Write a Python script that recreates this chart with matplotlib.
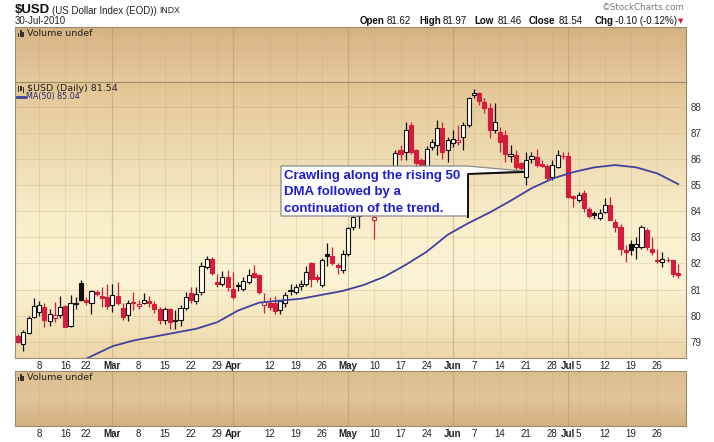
import numpy as np
import pandas as pd
import matplotlib
matplotlib.use("Agg")
import matplotlib.pyplot as plt
from matplotlib.colors import LinearSegmentedColormap
from matplotlib.patches import Polygon, Rectangle
from matplotlib.lines import Line2D

plt.rcParams['font.family'] = ['Liberation Sans', 'DejaVu Sans']

# trading days on the chart (Feb 15 and May 31 closed)
days = pd.bdate_range("2010-02-02", "2010-07-30")
days = days[~days.isin(pd.to_datetime(["2010-02-15", "2010-05-31"]))]

opens = [79.21, 78.93, 79.34, 79.96, 80.15, 80.34, 79.80, 79.92, 80.02, 80.36,
         79.60, 80.45, 81.26, 80.62, 80.47, 80.91, 80.75, 80.72, 80.40, 80.75,
         80.31, 80.02, 80.53, 80.36, 80.49, 80.56, 80.44, 80.27, 79.85, 80.24,
         79.78, 79.83, 80.28, 80.87, 80.55, 80.91, 81.87, 82.19, 81.30, 81.23,
         81.49, 81.04, 81.12, 81.04, 81.30, 81.62, 81.55, 80.40, 80.49, 80.47,
         80.20, 80.50, 80.95, 80.89, 81.15, 81.23, 82.02, 81.50, 81.17, 82.35,
         82.28, 81.94, 81.74, 82.36, 83.40, 83.80, 84.40, 84.90, 83.66, 83.95,
         84.60, 85.10, 85.50, 86.34, 86.28, 87.30, 86.34, 85.96, 85.70, 86.47,
         86.53, 87.17, 86.34, 86.60, 86.66, 86.85, 87.30, 88.45, 88.52, 88.19,
         87.94, 87.13, 87.04, 86.92, 86.12, 86.15, 85.83, 85.32, 86.00, 86.09,
         85.80, 85.73, 85.32, 85.70, 86.13, 86.11, 84.60, 84.45, 84.68, 84.10,
         83.92, 83.75, 83.98, 84.23, 83.60, 83.40, 82.52, 82.76, 82.64, 82.64,
         83.27, 82.57, 82.15, 82.06, 82.15, 82.13, 81.62]
highs = [79.30, 79.45, 80.00, 80.68, 80.55, 80.47, 80.27, 80.53, 80.75, 80.40,
         80.78, 80.70, 81.36, 80.70, 80.98, 81.00, 81.10, 81.23, 81.20, 81.30,
         80.47, 80.62, 80.90, 80.60, 80.87, 80.75, 80.55, 80.35, 80.35, 80.30,
         80.20, 80.40, 80.90, 81.10, 81.10, 82.05, 82.30, 82.25, 81.60, 81.70,
         81.75, 81.68, 81.30, 81.50, 81.80, 81.95, 81.60, 80.86, 80.70, 80.75,
         80.60, 80.90, 81.20, 81.20, 81.35, 81.90, 82.05, 81.60, 82.20, 82.77,
         82.65, 82.00, 82.50, 83.40, 83.98, 84.60, 85.50, 85.30, 84.20, 84.70,
         85.50, 85.70, 86.34, 86.53, 87.43, 87.43, 86.40, 86.05, 86.50, 86.75,
         87.49, 87.43, 86.85, 87.11, 87.30, 87.43, 88.38, 88.70, 88.58, 88.32,
         88.13, 88.13, 87.24, 87.11, 86.53, 86.34, 85.90, 86.28, 86.28, 86.40,
         85.96, 85.80, 85.96, 86.34, 86.28, 86.28, 84.62, 84.75, 84.81, 84.15,
         84.00, 84.10, 84.49, 84.55, 83.72, 83.53, 82.70, 82.89, 83.02, 83.47,
         83.34, 83.02, 82.57, 82.45, 82.25, 82.13, 81.97]
lows = [78.95, 78.64, 79.30, 79.90, 80.00, 79.57, 79.60, 79.75, 79.90, 79.55,
        79.55, 80.24, 80.55, 80.40, 80.08, 80.75, 80.34, 80.27, 80.15, 80.40,
        79.83, 79.80, 80.20, 80.27, 80.45, 80.35, 80.10, 79.70, 79.70, 79.50,
        79.48, 79.60, 80.20, 80.50, 80.45, 80.80, 81.80, 81.55, 81.10, 81.15,
        80.95, 80.65, 80.95, 80.95, 81.20, 81.45, 80.85, 80.09, 80.20, 80.05,
        80.05, 80.35, 80.80, 80.85, 81.00, 81.15, 81.10, 81.30, 81.10, 81.90,
        81.95, 81.60, 81.65, 82.30, 83.30, 83.34, 84.20, 84.30, 82.92, 83.90,
        84.40, 84.90, 85.40, 85.96, 85.96, 86.20, 85.64, 85.60, 85.60, 86.35,
        86.15, 86.02, 85.89, 86.47, 86.55, 86.34, 87.24, 88.32, 88.07, 87.75,
        86.79, 86.98, 86.28, 85.89, 85.89, 85.57, 85.55, 85.00, 85.83, 85.70,
        85.68, 85.20, 85.19, 85.64, 86.00, 84.49, 84.17, 84.36, 83.98, 83.75,
        83.70, 83.66, 83.92, 83.66, 83.21, 82.32, 82.06, 82.32, 82.19, 82.57,
        82.51, 82.32, 82.00, 81.87, 82.06, 81.49, 81.46]
closes = [79.00, 79.38, 79.92, 80.36, 80.40, 79.83, 80.06, 80.02, 80.34, 79.57,
          80.49, 80.50, 80.59, 80.53, 80.95, 80.85, 80.66, 80.36, 80.79, 80.47,
          79.96, 80.49, 80.47, 80.44, 80.59, 80.47, 80.24, 79.83, 80.24, 79.76,
          79.82, 80.30, 80.72, 80.60, 80.85, 81.90, 82.19, 81.62, 81.23, 81.49,
          81.10, 80.72, 81.17, 81.33, 81.55, 81.50, 80.91, 80.53, 80.34, 80.18,
          80.55, 80.80, 80.98, 81.08, 81.20, 81.68, 81.42, 81.40, 82.13, 82.30,
          82.02, 81.85, 82.36, 83.34, 83.79, 84.40, 84.90, 84.70, 83.79, 84.50,
          85.20, 85.60, 86.24, 86.21, 87.13, 86.28, 85.83, 85.70, 86.40, 86.66,
          87.17, 86.28, 86.72, 86.75, 86.72, 87.30, 88.32, 88.54, 88.23, 87.94,
          87.11, 87.43, 86.66, 86.20, 86.21, 85.68, 85.64, 85.96, 86.11, 85.77,
          85.75, 85.26, 85.77, 86.15, 86.10, 84.55, 84.49, 84.62, 84.11, 83.81,
          83.85, 83.94, 84.23, 83.66, 83.40, 82.57, 82.45, 82.51, 82.76, 83.40,
          82.64, 82.45, 82.10, 82.19, 82.12, 81.60, 81.54]
prior_close = 79.35

# 50-day moving average, every 4th trading day from day 10
ma_start, ma_step = 10, 4
ma_values = [78.05, 78.45, 78.83, 79.05, 79.20, 79.35, 79.50, 79.75, 80.20, 80.50,
             80.58, 80.65, 80.80, 80.95, 81.18, 81.50, 81.95, 82.45, 83.10, 83.55,
             83.95, 84.40, 84.88, 85.25, 85.50, 85.68, 85.77, 85.68, 85.45, 85.04]

tick_dates = ["2010-02-08", "2010-02-16", "2010-02-22", "2010-03-01", "2010-03-08",
              "2010-03-15", "2010-03-22", "2010-03-29", "2010-04-01", "2010-04-12",
              "2010-04-19", "2010-04-26", "2010-05-03", "2010-05-10", "2010-05-17",
              "2010-05-24", "2010-06-01", "2010-06-07", "2010-06-14", "2010-06-21",
              "2010-06-28", "2010-07-01", "2010-07-05", "2010-07-12", "2010-07-19",
              "2010-07-26"]
tick_labels = ["8", "16", "22", "Mar", "8", "15", "22", "29", "Apr", "12", "19", "26",
               "May", "10", "17", "24", "Jun", "7", "14", "21", "28", "Jul", "5", "12",
               "19", "26"]
months = {"Mar", "Apr", "May", "Jun", "Jul"}
price_ticks = [79, 80, 81, 82, 83, 84, 85, 86, 87, 88]

W, H = 714, 442
red = '#d51c3c'


def fx(x):
    return x / W


def fy(y):
    return 1 - y / H


fig = plt.figure(figsize=(W / 100, H / 100), dpi=100)
fig.patch.set_facecolor('white')


def panel(x0, y0, x1, y1):
    return fig.add_axes([x0 / W, 1 - y1 / H, (x1 - x0) / W, (y1 - y0) / H])


def shade(a, stops):
    cmap = LinearSegmentedColormap.from_list('bg', stops)
    a.imshow(np.linspace(0, 1, 200).reshape(-1, 1), cmap=cmap, aspect='auto',
             extent=(0, 1, 0, 1), transform=a.transAxes, zorder=0, interpolation='bilinear')


ax_top = panel(15, 27, 686, 82)
ax = panel(15, 82, 686, 358)
ax_bot = panel(15, 371, 686, 426)

shade(ax_top, [(0, '#d5b284'), (1, '#e5ca9b')])
shade(ax, [(0, '#e3c594'), (0.5, '#f8eecb'), (0.72, '#fbf4d4'), (1, '#eed6a8')])
shade(ax_bot, [(0, '#dcbd8e'), (0.5, '#e1c698'), (1, '#d3b082')])

tick_pos = [days.get_loc(pd.Timestamp(d)) for d in tick_dates]
x_lo, x_hi = -0.6, len(days) + 0.5

for a in (ax_top, ax, ax_bot):
    for pos, lab in zip(tick_pos, tick_labels):
        strong = lab in months
        a.axvline(pos, color='#a88b5e' if strong else '#c2a77c',
                  lw=0.9 if strong else 0.6, alpha=0.4 if strong else 0.3, zorder=1)
    a.set_xlim(x_lo, x_hi)
    for s in a.spines.values():
        s.set_color('#9c8a6c')
        s.set_linewidth(0.8)

for v in price_ticks:
    ax.axhline(v, color='#b89c70', lw=0.6, alpha=0.3, zorder=1)

# candles
prev = [prior_close] + closes[:-1]
for i, (o, h, l, c, p) in enumerate(zip(opens, highs, lows, closes, prev)):
    col = red if c < p else '#111111'
    filled = c < o
    ax.vlines(i, l, h, color=col, lw=0.9, zorder=3)
    ax.bar(i, max(abs(c - o), 0.025), bottom=min(o, c), width=0.78,
           color=col if filled else '#fffdf4', edgecolor=col, linewidth=0.8, zorder=4)

ma_pos = [ma_start + ma_step * k for k in range(len(ma_values))]
ax.plot(ma_pos, ma_values, color='#43419c', lw=1.3, zorder=5)

ax.set_ylim(78.38, 88.95)
ax.yaxis.tick_right()
ax.set_yticks(price_ticks)
ax.tick_params(axis='y', length=0, pad=3, labelsize=7, labelcolor='#333333')

for a in (ax, ax_bot):
    a.set_xticks(tick_pos)
    a.set_xticklabels(tick_labels)
    a.tick_params(axis='x', length=0, pad=2.5, labelsize=7, labelcolor='#222222')
    for t in a.get_xticklabels():
        if t.get_text() in months:
            t.set_fontweight('bold')
for a in (ax_top, ax_bot):
    a.set_yticks([])
    a.set_ylim(0, 1)
ax_top.set_xticks([])

# panel captions
for y in (33.5, 377.5):
    fig.text(fx(27), fy(y), 'Volume undef', family='DejaVu Sans', fontsize=6.8,
             va='center', color='#222222')
    for k, hgt in enumerate((4, 7, 5)):
        fig.add_artist(Rectangle((fx(18 + 2.2 * k), fy(y + 3.5)), 1.4 / W, hgt / H,
                                 transform=fig.transFigure, color='#333333', lw=0))
fig.text(fx(27), fy(88.5), '$USD (Daily) 81.54', family='DejaVu Sans', fontsize=6.8,
         va='center', color='#222222')
for k, (y0, hgt) in enumerate(((92, 6), (91, 5), (93, 6))):
    fig.add_artist(Rectangle((fx(18 + 2.4 * k), fy(y0)), 1.4 / W, hgt / H,
                             transform=fig.transFigure, color='#333333', lw=0))
fig.text(fx(26), fy(97), 'MA(50) 85.04', family='DejaVu Sans', fontsize=5.8,
         va='center', color='#2a2a6a')
fig.add_artist(Line2D([fx(17), fx(25)], [fy(97), fy(97)], transform=fig.transFigure,
                      color='#43419c', lw=2))

# header
fig.text(fx(15), fy(10), '$USD', fontsize=9.5, fontweight='bold', va='center', color='#111111')
fig.text(fx(52), fy(10.5), '(US Dollar Index (EOD))', fontsize=7, va='center', color='#222222')
fig.text(fx(159), fy(10.5), 'INDX', fontsize=6.2, va='center', color='#222222')
fig.text(fx(15), fy(21.5), '30-Jul-2010', fontsize=7, va='center', color='#222222')
fig.text(fx(685), fy(8), '\u00a9StockCharts.com', family='DejaVu Sans', fontsize=6.3,
         ha='right', va='center', color='#777777')
quote = [(360, 'Open', True), (387, '81.62', False), (419, 'High', True),
         (443, '81.97', False), (474, 'Low', True), (498, '81.46', False),
         (529, 'Close', True), (559, '81.54', False), (595, 'Chg', True),
         (615, '-0.10 (-0.12%)', False)]
for x, s, b in quote:
    fig.text(fx(x), fy(21.5), s, fontsize=7, fontweight='bold' if b else 'normal',
             va='center', color='#111111')
fig.text(fx(678), fy(21.5), '\u25bc', family=['DejaVu Sans'], fontsize=5, va='center', color=red)

# callout
pts = [(281, 166), (467, 166), (523, 171), (468, 174), (468, 216), (281, 216)]
fig.add_artist(Polygon([(fx(x), fy(y)) for x, y in pts], closed=True,
                       transform=fig.transFigure, facecolor='white',
                       edgecolor='#8a8a8a', lw=0.9, zorder=10))
fig.add_artist(Line2D([fx(468), fx(468), fx(523)], [fy(217), fy(174), fy(172)],
                      transform=fig.transFigure, color='#111111', lw=1.4, zorder=11))
for y, s in ((176, 'Crawling along the rising 50'), (192.5, 'DMA followed by a'),
             (209, 'continuation of the trend.')):
    fig.text(fx(284), fy(y), s, fontsize=9.5, fontweight='bold', color='#1c1cd4',
             va='center', zorder=12)

fig.savefig('out.png', dpi=100)
